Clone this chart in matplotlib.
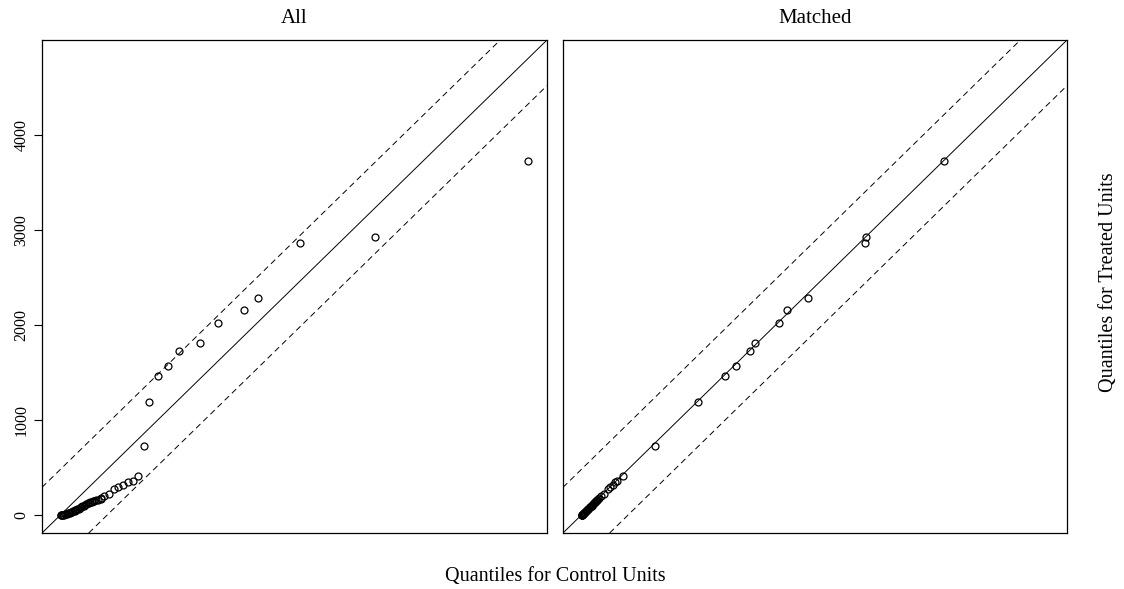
import matplotlib
matplotlib.use("Agg")
import matplotlib.pyplot as plt

# Quantiles
treated_q = [0, 0, 0, 0, 0, 3, 6, 10, 14, 18, 21, 25, 30, 35, 40, 45, 53, 58,
             64, 70, 77, 84, 90, 97, 104, 111, 119, 124, 130, 136, 140, 144,
             150, 155, 161, 175, 196, 221, 273, 291, 315, 343, 360, 407, 728,
             1187, 1457, 1562, 1723, 1810, 2020, 2153, 2287, 2864, 2928, 3729]

control_all_q = [0, 6, 14, 22, 30, 40, 50, 62, 74, 86, 95, 105, 118, 130, 142,
                 152, 160, 172, 185, 198, 205, 211, 222, 235, 248, 262, 279,
                 292, 305, 320, 332, 347, 362, 385, 416, 416, 450, 501, 552,
                 593, 638, 690, 741, 792, 854, 911, 997, 1100, 1213, 1431,
                 1619, 1879, 2026, 2457, 3226, 4806]

control_matched_q = [0, 0, 2, 4, 6, 9, 12, 16, 20, 24, 27, 31, 36, 41, 46, 51,
                     58, 63, 69, 75, 82, 89, 95, 102, 109, 116, 124, 129, 135,
                     141, 145, 149, 155, 160, 166, 180, 200, 226, 276, 295, 318,
                     346, 363, 429, 751, 1195, 1472, 1588, 1732, 1790, 2036,
                     2111, 2327, 2922, 2929, 3736]

panel_titles = ["All", "Matched"]
y_ticks = [0, 1000, 2000, 3000, 4000]

lo, hi = 0, 4806
pad = 0.04 * (hi - lo)
band = 0.1 * (hi - lo)

plt.rcParams["font.family"] = ["Liberation Serif", "DejaVu Serif"]
plt.rcParams["lines.scale_dashes"] = False

fig = plt.figure(figsize=(11.24, 5.89), dpi=100)
W, H = 1124, 589
ax_left = fig.add_axes([42 / W, (H - 533) / H, 505 / W, 493 / H])
ax_right = fig.add_axes([563 / W, (H - 533) / H, 504 / W, 493 / H])

for ax, xs, title in zip([ax_left, ax_right], [control_all_q, control_matched_q], panel_titles):
    ax.set_xlim(lo - pad, hi + pad)
    ax.set_ylim(lo - pad, hi + pad)
    ax.axline((0, 0), slope=1, color="black", lw=0.7)
    ax.axline((0, band), slope=1, color="black", lw=0.7, linestyle=(0, (4.3, 2.9)))
    ax.axline((0, -band), slope=1, color="black", lw=0.7, linestyle=(0, (4.3, 2.9)))
    ax.plot(xs, treated_q, linestyle="none", marker="o", markersize=5,
            markerfacecolor="none", markeredgecolor="black", markeredgewidth=0.9)
    ax.set_title(title, fontsize=15, pad=12)
    ax.set_xticks([])
    for s in ax.spines.values():
        s.set_linewidth(0.9)

ax_left.set_yticks(y_ticks)
ax_left.set_yticklabels([str(t) for t in y_ticks], rotation=90, va="center", fontsize=11.5)
ax_left.tick_params(axis="y", length=6, width=0.8, pad=3)
ax_right.set_yticks([])

fig.text(555 / W, 1 - 577 / H, "Quantiles for Control Units", ha="center", va="center", fontsize=14.5)
fig.text(1108 / W, 1 - 282 / H, "Quantiles for Treated Units", ha="center", va="center",
         rotation=90, fontsize=14.5)

fig.savefig("out.png", dpi=100)
